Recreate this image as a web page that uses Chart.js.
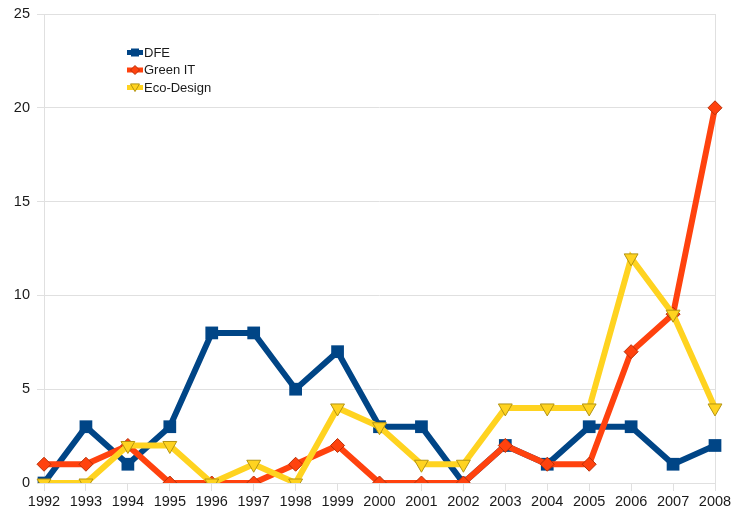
<!DOCTYPE html>
<html lang="en">
  <head>
    <meta charset="UTF-8" />
    <title>DFE / Green IT / Eco-Design</title>
    <script src="https://cdn.jsdelivr.net/npm/chart.js"></script>
    <style>
      body {
        margin: 0;
        background: #ffffff;
        font-family: "Liberation Sans", Arial, sans-serif;
      }
      #wrap {
        width: 731px;
        height: 512px;
      }
    </style>
  </head>
  <body>
    <div id="wrap">
      <canvas id="pubChart" width="731" height="512"></canvas>
    </div>

    <script>
      const years = [
        "1992", "1993", "1994", "1995", "1996", "1997", "1998", "1999", "2000",
        "2001", "2002", "2003", "2004", "2005", "2006", "2007", "2008",
      ];
      const dfe = [0, 3, 1, 3, 8, 8, 5, 7, 3, 3, 0, 2, 1, 3, 3, 1, 2];
      const greenIt = [1, 1, 2, 0, 0, 0, 1, 2, 0, 0, 0, 2, 1, 1, 7, 9, 20];
      const ecoDesign = [0, 0, 2, 2, 0, 1, 0, 4, 3, 1, 1, 4, 4, 4, 12, 9, 4];
      const yTicks = [0, 5, 10, 15, 20, 25];

      const gridColor = "#e0e0e0";
      const textColor = "#1a1a1a";
      const fontFamily = "'Liberation Sans', Arial, sans-serif";

      // small marker shapes used by the legend
      function drawMarker(ctx, style, x, y, r, fill, stroke) {
        ctx.save();
        ctx.beginPath();
        if (style === "rect") {
          ctx.rect(x - r, y - r, r * 2, r * 2);
        } else if (style === "rectRot") {
          ctx.moveTo(x - r, y);
          ctx.lineTo(x, y - r);
          ctx.lineTo(x + r, y);
          ctx.lineTo(x, y + r);
          ctx.closePath();
        } else {
          // triangle pointing down
          ctx.moveTo(x - r, y - r * 0.8);
          ctx.lineTo(x + r, y - r * 0.8);
          ctx.lineTo(x, y + r * 0.9);
          ctx.closePath();
        }
        ctx.fillStyle = fill;
        ctx.fill();
        if (stroke) {
          ctx.lineWidth = 1;
          ctx.strokeStyle = stroke;
          ctx.stroke();
        }
        ctx.restore();
      }

      const floatingLegend = {
        id: "floatingLegend",
        afterDraw(chart) {
          const ctx = chart.ctx;
          const rows = [52.5, 70, 87.5];
          chart.data.datasets.forEach((ds, i) => {
            const y = rows[i];
            ctx.save();
            ctx.strokeStyle = ds.borderColor;
            ctx.lineWidth = 5;
            ctx.beginPath();
            ctx.moveTo(127, y);
            ctx.lineTo(143, y);
            ctx.stroke();
            ctx.restore();
            drawMarker(
              ctx,
              ds.legendMarker,
              135,
              y,
              ds.legendMarker === "rect" ? 4 : 4.5,
              ds.pointBackgroundColor,
              ds.legendMarker === "rect" ? null : ds.pointBorderColor
            );
            ctx.save();
            ctx.fillStyle = textColor;
            ctx.font = "13px " + fontFamily;
            ctx.textBaseline = "middle";
            ctx.fillText(ds.label, 144, y + 0.5);
            ctx.restore();
          });
        },
      };

      const ctx = document.getElementById("pubChart").getContext("2d");

      new Chart(ctx, {
        type: "line",
        data: {
          labels: years,
          datasets: [
            {
              label: "DFE",
              data: dfe,
              borderColor: "#004586",
              borderWidth: 6,
              pointStyle: "rect",
              pointRadius: 9,
              pointHoverRadius: 9,
              pointBackgroundColor: "#004586",
              pointBorderColor: "#004586",
              pointBorderWidth: 0,
              legendMarker: "rect",
              order: 3,
            },
            {
              label: "Green IT",
              data: greenIt,
              borderColor: "#ff420e",
              borderWidth: 6,
              pointStyle: "rectRot",
              pointRadius: 7,
              pointHoverRadius: 7,
              pointBackgroundColor: "#ff420e",
              pointBorderColor: "#b83008",
              pointBorderWidth: 1,
              legendMarker: "rectRot",
              order: 2,
            },
            {
              label: "Eco-Design",
              data: ecoDesign,
              borderColor: "#ffd320",
              borderWidth: 6,
              pointStyle: "triangle",
              rotation: 180,
              pointRadius: 8,
              pointHoverRadius: 8,
              pointBackgroundColor: "#ffd320",
              pointBorderColor: "#b39412",
              pointBorderWidth: 1,
              legendMarker: "triangle",
              order: 1,
            },
          ],
        },
        options: {
          responsive: false,
          animation: false,
          layout: {
            padding: { top: 14, right: 16, left: 0, bottom: 0 },
          },
          plugins: {
            legend: { display: false },
            tooltip: { enabled: false },
          },
          scales: {
            x: {
              offset: false,
              afterFit(scale) {
                scale.height = 29;
                // let the last year label hang into the right margin
                scale.paddingLeft = 0;
                scale.paddingRight = 0;
              },
              grid: {
                drawOnChartArea: true,
                color: (c) =>
                  c.index === 0 || c.index === years.length - 1
                    ? gridColor
                    : "rgba(0,0,0,0)",
                tickColor: gridColor,
                tickLength: 8,
              },
              border: { display: false },
              ticks: {
                color: textColor,
                padding: 2,
                maxRotation: 0,
                autoSkip: false,
                font: { family: fontFamily, size: 14.5 },
              },
            },
            y: {
              min: 0,
              max: 25,
              afterFit(scale) {
                scale.width = 44;
                scale.paddingTop = 0;
                scale.paddingBottom = 0;
              },
              afterBuildTicks(scale) {
                scale.ticks = yTicks.map((v) => ({ value: v }));
              },
              grid: {
                color: gridColor,
                tickColor: gridColor,
                tickLength: 7,
              },
              border: { display: false },
              ticks: {
                color: textColor,
                padding: 7,
                font: { family: fontFamily, size: 14.5 },
              },
            },
          },
        },
        plugins: [floatingLegend],
      });
    </script>
  </body>
</html>
